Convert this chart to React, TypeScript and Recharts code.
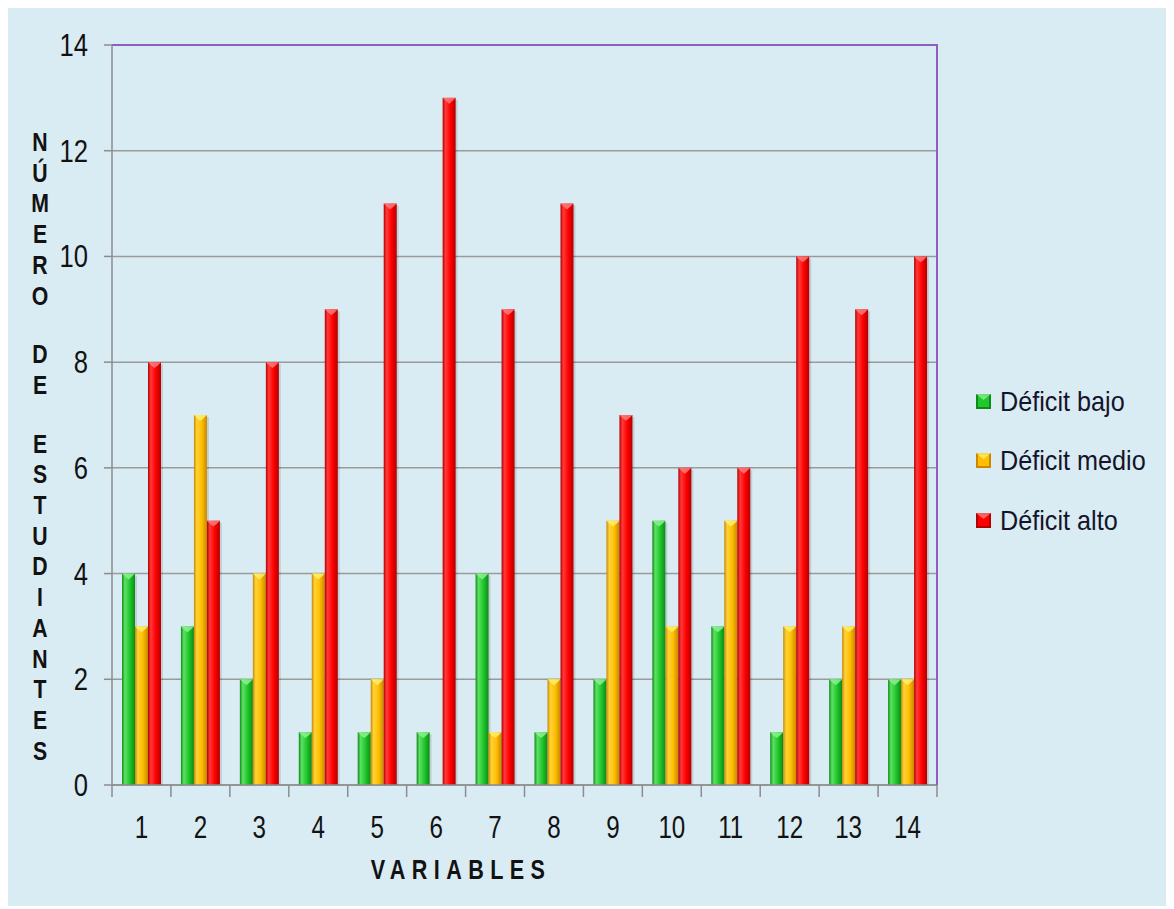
import { BarChart, Bar, XAxis, YAxis, CartesianGrid, Legend, ReferenceLine } from 'recharts';

// student counts per variable, by deficit level
const variables = ['1', '2', '3', '4', '5', '6', '7', '8', '9', '10', '11', '12', '13', '14'];
const deficitBajo = [4, 3, 2, 1, 1, 1, 4, 1, 2, 5, 3, 1, 2, 2];
const deficitMedio = [3, 7, 4, 4, 2, 0, 1, 2, 5, 3, 5, 3, 3, 2];
const deficitAlto = [8, 5, 8, 9, 11, 13, 9, 11, 7, 6, 6, 10, 9, 10];
const yTicks = [0, 2, 4, 6, 8, 10, 12, 14];
const yTitle = 'NÚMERO DE ESTUDIANTES';
const xTitle = 'VARIABLES';

const data = variables.map((v, i) => ({
  variable: v,
  bajo: deficitBajo[i],
  medio: deficitMedio[i],
  alto: deficitAlto[i],
}));

// Liberation Sans squeezed horizontally stands in for a narrow face
const FONT = "'Liberation Sans', Arial, sans-serif";
const INK = '#121212';

const W = 1160;
const H = 898;
const MARGIN = { top: 37, right: 231, bottom: 81, left: 44 };
const Y_AXIS_W = 60;
const X_AXIS_H = 40;
const PLOT_X = MARGIN.left + Y_AXIS_W;
const PLOT_W = W - MARGIN.left - MARGIN.right - Y_AXIS_W;
const PLOT_H = H - MARGIN.top - MARGIN.bottom - X_AXIS_H;
const FRAME = '#8e5fc0';

const TONES = {
  bajo: { id: 'gBajo', dark: '#0e8a18', base: '#1fc82b', light: '#5fe066', cap: '#8cf08f', name: 'Déficit bajo' },
  medio: { id: 'gMedio', dark: '#c88800', base: '#ffbf00', light: '#ffd23a', cap: '#fff06a', name: 'Déficit medio' },
  alto: { id: 'gAlto', dark: '#b30000', base: '#ff0000', light: '#ff3a3a', cap: '#ff7a7a', name: 'Déficit alto' },
};

type Tone = typeof TONES.bajo;

const Squeezed = ({ x, y, sx = 0.8, children, ...rest }: any) => (
  <text transform={`translate(${x},${y}) scale(${sx},1)`} x={0} y={0} fontFamily={FONT} fill={INK} {...rest}>
    {children}
  </text>
);

const BevelBar = (props: any) => {
  const { x, y, width, height, tone } = props as { x: number; y: number; width: number; height: number; tone: Tone };
  if (!height || height <= 0) return null;
  const cap = Math.min(width * 0.45, height);
  return (
    <g>
      <rect x={x + 2} y={y + 2} width={width} height={height - 2} fill="#000" opacity={0.12} />
      <rect x={x} y={y} width={width} height={height} fill={`url(#${tone.id})`} />
      <polygon
        points={`${x},${y} ${x + width},${y} ${x + width - 3},${y + 3} ${x + width / 2},${y + cap} ${x + 3},${y + 3}`}
        fill={tone.cap}
        opacity={0.85}
      />
    </g>
  );
};

const XTick = (props: any) => {
  const { x, y, payload, index } = props;
  const band = PLOT_W / variables.length;
  const left = x - band / 2;
  return (
    <g>
      <line x1={left} y1={y} x2={left} y2={y + 12} stroke="#8c8c8c" strokeWidth={1.5} />
      {index === variables.length - 1 && (
        <line x1={left + band} y1={y} x2={left + band} y2={y + 12} stroke="#8c8c8c" strokeWidth={1.5} />
      )}
      <Squeezed x={x} y={y + 53} sx={0.78} textAnchor="middle" fontSize={31}>
        {payload.value}
      </Squeezed>
    </g>
  );
};

const YTick = (props: any) => {
  const { x, y, payload } = props;
  return (
    <Squeezed x={x} y={y + 11} sx={0.8} textAnchor="end" fontSize={32}>
      {payload.value}
    </Squeezed>
  );
};

// vertical stacked title, one letter per line; spaces add a wider gap
const YTitle = () => {
  let cy = 134;
  const items: { ch: string; y: number }[] = [];
  yTitle.split('').forEach((ch, i) => {
    if (ch === ' ') {
      cy += 28;
      return;
    }
    if (i > 0) cy += 30.7;
    items.push({ ch, y: cy });
  });
  return (
    <g>
      {items.map((it, i) => (
        <Squeezed key={i} x={32} y={it.y + 9} sx={0.85} textAnchor="middle" fontSize={25} fontWeight="bold">
          {it.ch}
        </Squeezed>
      ))}
    </g>
  );
};

const XTitle = () => (
  <Squeezed x={453} y={871} sx={0.8} textAnchor="middle" fontSize={27} fontWeight="bold" letterSpacing={8}>
    {xTitle}
  </Squeezed>
);

const LegendBox = () => (
  <div style={{ fontFamily: FONT, fontSize: 28, color: '#14142a', whiteSpace: 'nowrap' }}>
    {Object.values(TONES).map((t) => (
      <div key={t.id} style={{ display: 'flex', alignItems: 'center', height: 59.5 }}>
        <svg width={16} height={16} style={{ marginRight: 8, flex: 'none' }}>
          <rect x={0} y={0} width={15} height={15} fill={t.dark} />
          <rect x={2} y={2} width={11} height={11} fill={t.base} />
          <polygon points="0,0 15,0 7.5,6" fill={t.cap} opacity={0.8} />
        </svg>
        <span style={{ display: 'inline-block', transform: 'scaleX(0.9)', transformOrigin: 'left center' }}>{t.name}</span>
      </div>
    ))}
  </div>
);

export default function App() {
  return (
    <div style={{ width: W, height: H, background: '#daecf3', position: 'relative' }}>
      <BarChart width={W} height={H} data={data} margin={MARGIN} barGap={0} barSize={13}>
        <defs>
          {Object.values(TONES).map((t) => (
            <linearGradient key={t.id} id={t.id} x1="0" y1="0" x2="1" y2="0">
              <stop offset="0%" stopColor={t.dark} />
              <stop offset="22%" stopColor={t.light} />
              <stop offset="60%" stopColor={t.base} />
              <stop offset="100%" stopColor={t.dark} />
            </linearGradient>
          ))}
        </defs>
        <CartesianGrid vertical={false} stroke="#9a9a9a" strokeWidth={1.5} />
        <XAxis
          dataKey="variable"
          height={X_AXIS_H}
          axisLine={{ stroke: '#8c8c8c', strokeWidth: 1.5 }}
          tickLine={false}
          tickSize={0}
          tickMargin={0}
          interval={0}
          tick={<XTick />}
          label={{ content: () => <XTitle /> }}
        />
        <YAxis
          width={Y_AXIS_W}
          domain={[0, 14]}
          ticks={yTicks}
          interval={0}
          axisLine={{ stroke: '#8c8c8c', strokeWidth: 1.5 }}
          tickLine={{ stroke: '#8c8c8c', strokeWidth: 1.5 }}
          tickSize={8}
          tickMargin={16}
          tick={<YTick />}
          label={{ content: () => <YTitle /> }}
        />
        <ReferenceLine y={14} stroke={FRAME} strokeWidth={2} />
        <Legend
          layout="vertical"
          align="center"
          verticalAlign="middle"
          content={() => <LegendBox />}
          wrapperStyle={{ left: 968, top: 364, width: 190 }}
        />
        <Bar dataKey="bajo" name={TONES.bajo.name} fill={TONES.bajo.base} isAnimationActive={false} shape={(p: any) => <BevelBar {...p} tone={TONES.bajo} />} />
        <Bar dataKey="medio" name={TONES.medio.name} fill={TONES.medio.base} isAnimationActive={false} shape={(p: any) => <BevelBar {...p} tone={TONES.medio} />} />
        <Bar dataKey="alto" name={TONES.alto.name} fill={TONES.alto.base} isAnimationActive={false} shape={(p: any) => <BevelBar {...p} tone={TONES.alto} />} />
      </BarChart>
      {/* purple right edge of the plot frame */}
      <div
        style={{
          position: 'absolute',
          left: PLOT_X + PLOT_W - 1,
          top: MARGIN.top - 1,
          width: 2,
          height: PLOT_H + 1,
          background: FRAME,
          pointerEvents: 'none',
        }}
      />
    </div>
  );
}
